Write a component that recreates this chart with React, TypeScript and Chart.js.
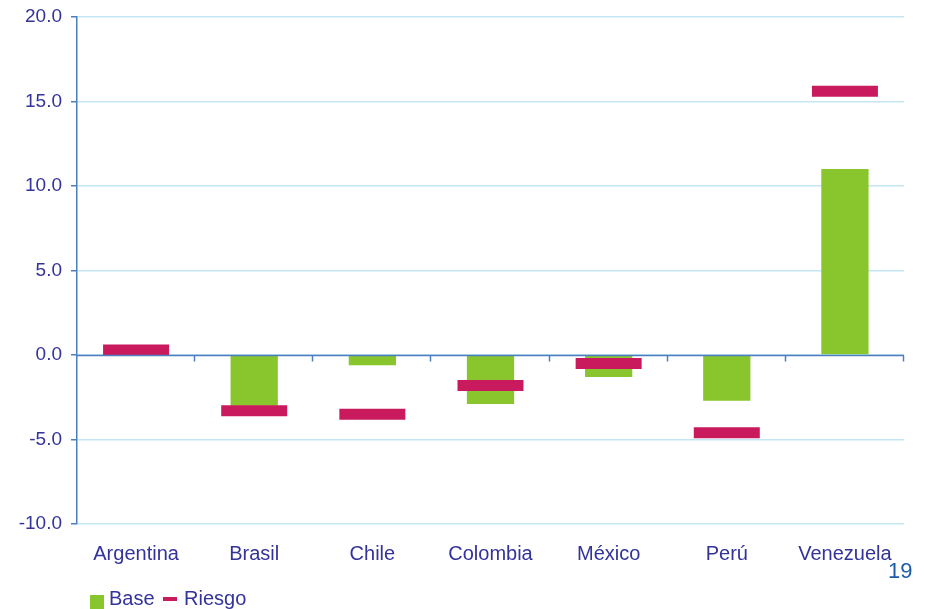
import React, { useEffect, useRef } from "react";
import { Chart, registerables } from "chart.js";

Chart.register(...registerables);

const categories = ["Argentina", "Brasil", "Chile", "Colombia", "México", "Perú", "Venezuela"];
const baseValues = [0, -3.0, -0.6, -2.9, -1.3, -2.7, 11.0];
const riesgoValues = [0.3, -3.3, -3.5, -1.8, -0.5, -4.6, 15.6];
const yMin = -10;
const yMax = 20;
const yStep = 5;

const GREEN = "#89c62d";
const MAGENTA = "#c91a5d";
const TEXT = "#333399";
const AXIS = "#4d7fc0";
const GRID = "#c4e5f2";
const FONT = "'Liberation Sans', Arial, sans-serif";

// Horizontal axis line at zero, with tick marks at the category boundaries.
const zeroAxisPlugin = {
  id: "zeroAxis",
  afterDatasetsDraw(chart: any) {
    const { ctx, chartArea, scales } = chart;
    const yPix = Math.round(scales.y.getPixelForValue(0)) + 0.5;
    const n = categories.length;
    ctx.save();
    ctx.strokeStyle = AXIS;
    ctx.lineWidth = 1.5;
    ctx.beginPath();
    ctx.moveTo(chartArea.left, yPix);
    ctx.lineTo(chartArea.right, yPix);
    for (let i = 1; i <= n; i++) {
      const x = Math.round(chartArea.left + (i * (chartArea.right - chartArea.left)) / n) - 0.5;
      ctx.moveTo(x, yPix);
      ctx.lineTo(x, yPix + 6);
    }
    ctx.stroke();
    ctx.restore();
  },
};

export default function App() {
  const canvasRef = useRef<HTMLCanvasElement | null>(null);

  useEffect(() => {
    const canvas = canvasRef.current;
    if (!canvas) return;
    const chart = new Chart(canvas, {
      type: "bar",
      data: {
        labels: categories,
        datasets: [
          {
            type: "line",
            label: "Riesgo",
            data: riesgoValues,
            order: 0,
            showLine: false,
            pointStyle: "line",
            pointRadius: 33,
            pointHoverRadius: 33,
            pointBorderWidth: 11,
            pointHoverBorderWidth: 11,
            borderColor: MAGENTA,
            backgroundColor: MAGENTA,
            pointBorderColor: MAGENTA,
          } as any,
          {
            type: "bar",
            label: "Base",
            data: baseValues,
            order: 1,
            backgroundColor: GREEN,
            borderWidth: 0,
            categoryPercentage: 1,
            barPercentage: 0.4,
          },
        ],
      },
      options: {
        responsive: false,
        animation: false,
        layout: { autoPadding: false, padding: { left: 0, right: 22, top: 17, bottom: 0 } },
        plugins: {
          legend: { display: false },
          tooltip: { enabled: false },
        },
        scales: {
          x: {
            type: "category",
            position: "bottom",
            offset: true,
            grid: { display: false, drawTicks: false },
            border: { display: false },
            ticks: {
              color: TEXT,
              font: { family: FONT, size: 20 },
              padding: 18,
              maxRotation: 0,
              autoSkip: false,
            },
            afterFit: (s: any) => {
              s.height = 85;
            },
          },
          y: {
            type: "linear",
            min: yMin,
            max: yMax,
            position: "left",
            ticks: {
              stepSize: yStep,
              color: TEXT,
              font: { family: FONT, size: 19, lineHeight: 0.8 },
              padding: 9,
              callback: (v: any) => Number(v).toFixed(1),
            },
            grid: {
              color: GRID,
              lineWidth: 1.5,
              drawTicks: true,
              tickLength: 6,
              tickColor: AXIS,
              tickWidth: 1.5,
            },
            border: { display: true, color: AXIS, width: 1.5 },
            afterFit: (s: any) => {
              s.width = 77;
            },
          },
        },
      },
      plugins: [zeroAxisPlugin],
    });
    return () => chart.destroy();
  }, []);

  return (
    <div style={{ position: "absolute", left: 0, top: 0, width: 926, height: 609, overflow: "hidden", background: "#fff" }}>
      <canvas ref={canvasRef} width={926} height={609} style={{ display: "block" }} />
      <div style={{ position: "absolute", left: 888, top: 560, fontFamily: FONT, fontSize: 22, lineHeight: "22px", color: "#1c5ca8" }}>
        19
      </div>
      <div style={{ position: "absolute", left: 90, top: 595, width: 14, height: 14, background: GREEN }} />
      <div style={{ position: "absolute", left: 109, top: 588, fontFamily: FONT, fontSize: 20, lineHeight: "20px", color: TEXT }}>
        Base
      </div>
      <div style={{ position: "absolute", left: 163, top: 597, width: 14, height: 4, background: MAGENTA }} />
      <div style={{ position: "absolute", left: 184, top: 588, fontFamily: FONT, fontSize: 20, lineHeight: "20px", color: TEXT }}>
        Riesgo
      </div>
    </div>
  );
}
